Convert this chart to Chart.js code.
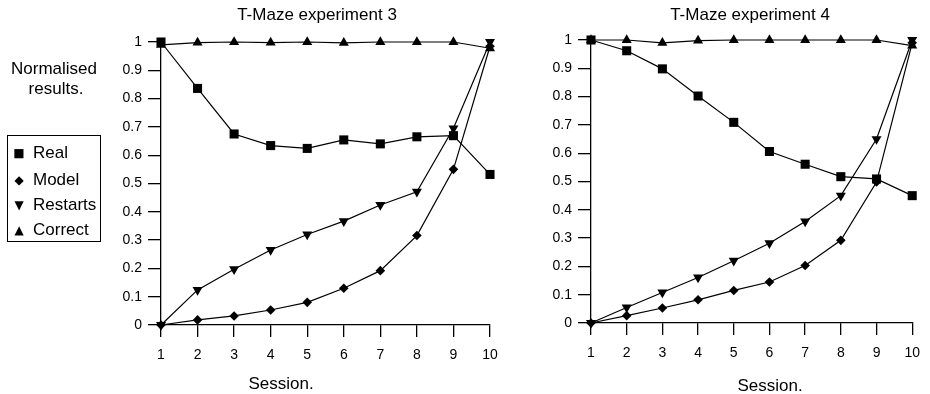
<!DOCTYPE html>
<html>
<head>
<meta charset="utf-8">
<script src="https://cdn.jsdelivr.net/npm/chart.js@4.4.1/dist/chart.umd.min.js"></script>
<style>
  body {
    margin: 0;
    width: 930px;
    height: 394px;
    position: relative;
    overflow: hidden;
    background: #fff;
    color: #000;
    font-family: "Liberation Sans", Arial, Helvetica, sans-serif;
  }
  canvas { position: absolute; top: 0; }
  #chart-exp3 { left: 0; }
  #chart-exp4 { left: 520px; }
  .txt {
    position: absolute;
    font-size: 17px;
    white-space: nowrap;
    transform: translate(-50%, -50%);
    line-height: 1;
  }
  .legend {
    position: absolute;
    left: 7px;
    top: 135px;
    width: 94px;
    height: 107px;
    border: 1px solid #000;
    box-sizing: border-box;
  }
  .legend div {
    position: absolute;
    left: 0;
    font-size: 17px;
    line-height: 1;
    white-space: nowrap;
    transform: translateY(-50%);
  }
  .legend .mk {
    position: absolute;
    left: 5px;
    width: 12px;
    text-align: center;
    font-family: "DejaVu Sans", sans-serif;
    font-size: 12px;
    top: 50%;
    transform: translateY(-50%);
  }
  .legend .lb { padding-left: 25px; }
</style>
</head>
<body>
<canvas id="chart-exp3" width="520" height="394"></canvas>
<canvas id="chart-exp4" width="410" height="394"></canvas>

<div class="txt" style="left:317px; top:14px;">T-Maze experiment 3</div>
<div class="txt" style="left:750px; top:14px;">T-Maze experiment 4</div>
<div class="txt" style="left:281px; top:383px;">Session.</div>
<div class="txt" style="left:770px; top:385px;">Session.</div>
<div class="txt" style="left:54px; top:68px;">Normalised</div>
<div class="txt" style="left:56px; top:88px;">results.</div>

<div class="legend" id="legend"></div>

<script>
// ----------------------------
// Data
// ----------------------------
const sessions = [1, 2, 3, 4, 5, 6, 7, 8, 9, 10];
const yTicks = [0, 0.1, 0.2, 0.3, 0.4, 0.5, 0.6, 0.7, 0.8, 0.9, 1];

const exp3Real     = [1.0, 0.836, 0.675, 0.634, 0.624, 0.654, 0.640, 0.665, 0.669, 0.532];
const exp3Model    = [0, 0.018, 0.032, 0.053, 0.080, 0.130, 0.192, 0.316, 0.550, 0.985];
const exp3Restarts = [0, 0.124, 0.197, 0.265, 0.320, 0.367, 0.424, 0.471, 0.695, 1.0];
const exp3Correct  = [0.99, 0.998, 1.0, 0.998, 1.0, 0.997, 1.0, 1.0, 1.0, 0.978];

const exp4Real     = [1.0, 0.962, 0.898, 0.802, 0.709, 0.606, 0.561, 0.517, 0.509, 0.450];
const exp4Model    = [0, 0.026, 0.053, 0.082, 0.115, 0.145, 0.203, 0.292, 0.498, 0.99];
const exp4Restarts = [0, 0.055, 0.108, 0.161, 0.220, 0.282, 0.359, 0.450, 0.650, 1.0];
const exp4Correct  = [1.0, 1.0, 0.99, 0.998, 1.0, 1.0, 1.0, 1.0, 1.0, 0.98];

const seriesNames = ['Real', 'Model', 'Restarts', 'Correct'];

// ----------------------------
// Styling
// ----------------------------
const FONT_FAMILY = '"Liberation Sans", Arial, Helvetica, sans-serif';
const TICK_FONT = { family: FONT_FAMILY, size: 14 };

const MARKERS = {
  Real:     { pointStyle: 'rect',     radius: 6.4, rotation: 0,   glyph: '\u25A0' },
  Model:    { pointStyle: 'rectRot',  radius: 4.8, rotation: 0,   glyph: '\u25C6' },
  Restarts: { pointStyle: 'triangle', radius: 5.8, rotation: 180, glyph: '\u25BC' },
  Correct:  { pointStyle: 'triangle', radius: 5.8, rotation: 0,   glyph: '\u25B2' }
};

const makeDataset = (name, values) => {
  const m = MARKERS[name];
  return {
    label: name,
    data: sessions.map((s, i) => ({ x: s, y: values[i] })),
    borderColor: '#000',
    backgroundColor: '#000',
    borderWidth: 1.2,
    tension: 0,
    pointStyle: m.pointStyle,
    pointRadius: m.radius,
    pointRotation: m.rotation,
    pointBorderWidth: 0,
    pointBackgroundColor: '#000',
    clip: false
  };
};

// layout: box = fixed y-axis width, padding around the plot area
const makeChart = (canvasId, seriesValues, box) => new Chart(document.getElementById(canvasId), {
  type: 'line',
  data: {
    datasets: seriesNames.map((n, i) => makeDataset(n, seriesValues[i]))
  },
  options: {
    responsive: false,
    animation: false,
    devicePixelRatio: 1,
    layout: {
      padding: { left: 0, right: box.right, top: box.top, bottom: box.bottom }
    },
    plugins: {
      legend: { display: false },
      title: { display: false },
      tooltip: { enabled: false }
    },
    scales: {
      x: {
        type: 'linear',
        min: 1,
        max: 10,
        afterFit: (scale) => { scale.height = 40; },
        afterBuildTicks: (scale) => { scale.ticks = sessions.map(v => ({ value: v })); },
        border: { display: true, color: '#000', width: 1.3 },
        grid: {
          drawOnChartArea: false,
          drawTicks: true,
          tickLength: 12,
          color: '#000',
          lineWidth: 1.3
        },
        ticks: { font: TICK_FONT, color: '#000', padding: 10, maxRotation: 0 }
      },
      y: {
        min: 0,
        max: 1,
        afterFit: (scale) => { scale.width = box.yWidth; },
        afterBuildTicks: (scale) => { scale.ticks = yTicks.map(v => ({ value: v })); },
        border: { display: true, color: '#000', width: 1.3 },
        grid: {
          drawOnChartArea: false,
          drawTicks: true,
          tickLength: 13,
          color: '#000',
          lineWidth: 1.3
        },
        ticks: {
          font: TICK_FONT,
          color: '#000',
          padding: 6,
          callback: (v) => String(Math.round(v * 10) / 10)
        }
      }
    }
  }
});

makeChart('chart-exp3', [exp3Real, exp3Model, exp3Restarts, exp3Correct],
  { yWidth: 161, right: 30, top: 42, bottom: 29 });
makeChart('chart-exp4', [exp4Real, exp4Model, exp4Restarts, exp4Correct],
  { yWidth: 71, right: 9, top: 40, bottom: 31 });

// ----------------------------
// Legend box (left panel)
// ----------------------------
const legendEl = document.getElementById('legend');
const legendRows = [16, 43, 68, 93];
seriesNames.forEach((name, i) => {
  const row = document.createElement('div');
  row.style.top = legendRows[i] + 'px';
  row.innerHTML = '<span class="mk">' + MARKERS[name].glyph + '</span><span class="lb">' + name + '</span>';
  legendEl.appendChild(row);
});
</script>
</body>
</html>
